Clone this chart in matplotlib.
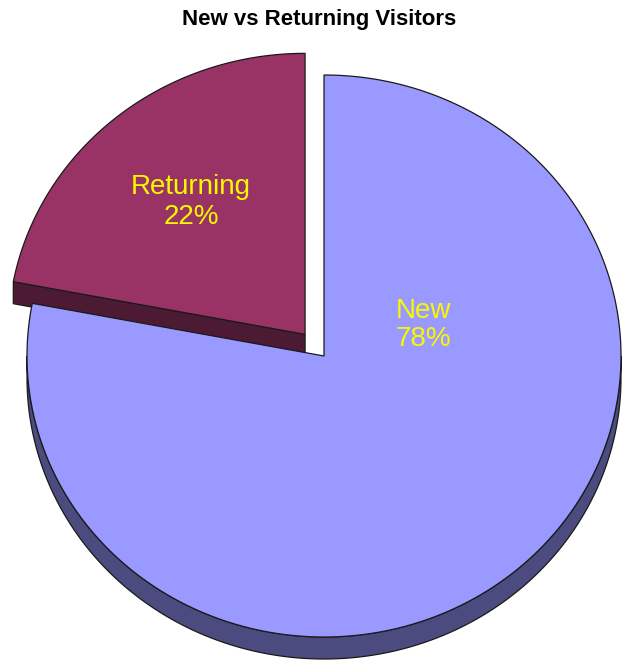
import numpy as np
import matplotlib.pyplot as plt
from matplotlib.patches import Polygon

# visitor split
labels = ['New', 'Returning']
shares = [78, 22]
top_colors = ['#9999ff', '#993366']
side_colors = ['#4b4b80', '#4d1a33']
explode = [0.0, 0.10]

# pie geometry in pixel space (y grows downwards)
cx, cy = 324, 356
rx, ry = 297, 281
depth = 22
edge = '#1a1a1a'


def pt(a, ox=0.0, oy=0.0, dz=0.0):
    t = np.radians(a)
    return (ox + rx * np.cos(t), oy - ry * np.sin(t) + dz)


fig = plt.figure(figsize=(6.29, 6.65), dpi=100)
ax = fig.add_axes([0, 0, 1, 1])
ax.set_xlim(0, 629)
ax.set_ylim(665, 0)
ax.axis('off')

# slice angles: start at 12 o'clock, go clockwise
total = sum(shares)
spans = [360.0 * s / total for s in shares]
slices = []
a_end = 90.0
for lab, span, ex in zip(labels, spans, explode):
    a_start = a_end - span
    mid = np.radians((a_start + a_end) / 2)
    ox = cx + ex * rx * np.cos(mid)
    oy = cy - ex * ry * np.sin(mid)
    slices.append((lab, a_start, a_end, ox, oy))
    a_end = a_start

# draw the exploded (back) slice first, then the front one
for i in [1, 0]:
    lab, a0, a1, ox, oy = slices[i]
    a0n = a0 % 360
    a1n = a0n + (a1 - a0)
    z = 2 + 3 * (1 - i)

    # curved rim on the front half
    lo, hi = max(a0n, 180), min(a1n, 360)
    if hi > lo:
        arc = np.linspace(lo, hi, 200)
        top = [pt(a, ox, oy) for a in arc]
        bot = [pt(a, ox, oy, depth) for a in arc[::-1]]
        ax.add_patch(Polygon(top + bot, closed=True, fc=side_colors[i],
                             ec=edge, lw=0.9, zorder=z))

    # radial cut face of the pulled-out slice (left edge faces the viewer)
    if i == 1:
        p = pt(a1n, ox, oy)
        face = [(ox, oy), p, (p[0], p[1] + depth), (ox, oy + depth)]
        ax.add_patch(Polygon(face, closed=True, fc=side_colors[i],
                             ec=edge, lw=0.9, zorder=z))

    arc = np.linspace(a0n, a1n, 400)
    wedge = [(ox, oy)] + [pt(a, ox, oy) for a in arc]
    ax.add_patch(Polygon(wedge, closed=True, fc=top_colors[i],
                         ec=edge, lw=0.9, zorder=z + 1))

# labels with percentages
label_pos = {'New': (423, 325), 'Returning': (191, 202)}
for lab, s in zip(labels, shares):
    x, y = label_pos[lab]
    ax.text(x, y, f'{lab}\n{s}%', ha='center', va='center', color='#f8f800',
            fontsize=20, family='Liberation Sans', linespacing=1.15, zorder=10)

ax.text(319, 20, 'New vs Returning Visitors', ha='center', va='center',
        fontsize=16, fontweight='bold', family='Liberation Sans', zorder=10)

fig.savefig('out.png', dpi=100)
